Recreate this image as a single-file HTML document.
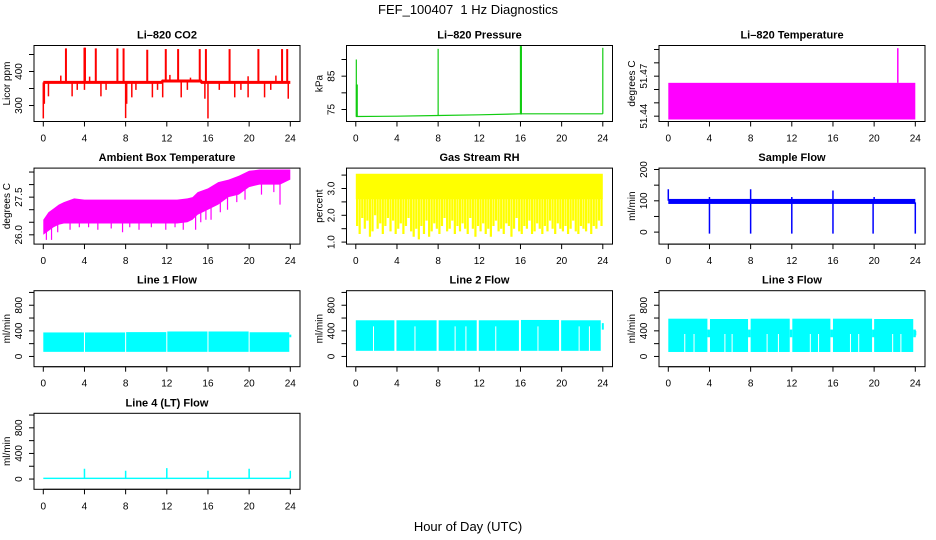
<!DOCTYPE html>
<html><head><meta charset="utf-8"><style>
html,body{margin:0;padding:0;background:#fff}
svg{display:block;font-family:"Liberation Sans",Arial,sans-serif}
</style></head><body>
<svg id="chart" width="936" height="540" viewBox="0 0 936 540" xmlns="http://www.w3.org/2000/svg">
<rect x="0" y="0" width="936" height="540" fill="#fff"/>
<text x="468" y="14" font-size="13" text-anchor="middle">FEF_100407 &#160;1 Hz Diagnostics</text>
<text x="468" y="531" font-size="13" text-anchor="middle">Hour of Day (UTC)</text>
</svg>
<script>
// ---- data ----
const xTicks = [0,4,8,12,16,20,24];
const co2BaseHours = [0,11.5,11.6,15.3,15.4,24];
const co2BaseVals = [368,368,372,372,368,368];
const co2SpikeHours = [2.2,4.0,4.05,5.1,7.2,7.8,10.1,11.9,13.1,15.2,15.8,18.1,20.9,23.2,23.7];
const co2SpikeTops = [468,470,470,468,468,468,464,466,466,466,466,466,466,466,466];
const co2DipHours = [0.0,0.1,0.5,2.8,3.3,4.0,5.6,6.1,8.0,8.1,8.6,9.0,10.6,11.1,11.6,13.4,14.0,15.7,16.0,17.1,18.6,19.2,19.9,21.5,22.1,23.8];
const co2DipMins = [262,305,327,327,346,346,327,346,263,305,324,346,324,346,324,324,346,320,262,346,324,346,324,324,346,320];
const co2BumpHours = [1.7,4.5,12.3,14.3,19.9,22.6];
const co2BumpTops = [388,385,390,382,386,388];

const pressHours = [0,4,8,12,16,20,24];
const pressVals = [72.9,73.0,73.2,73.4,73.7,73.7,73.7];
const pressSpikeHours = [0.05,8.0,16.0,24.0];
const pressSpikeTops = [90,93.2,94,93.5];

const ltHours = [0,24];
const ltLow = [51.4375,51.4375];
const ltHigh = [51.465,51.465];
const ltSpikeHours = [22.3];
const ltSpikeTops = [51.491];

const ambHours = [0,0.5,1,1.5,2,3,4,5,6,7,8,9,10,11,12,13,14,14.5,15,16,17,18,19,20,21,22,23,24];
const ambUpper = [26.6,26.9,27.05,27.2,27.3,27.45,27.4,27.4,27.4,27.4,27.4,27.4,27.4,27.4,27.4,27.4,27.45,27.5,27.7,27.85,28.1,28.2,28.35,28.55,28.6,28.6,28.6,28.6];
const ambLower = [26.0,26.15,26.3,26.4,26.45,26.45,26.45,26.45,26.45,26.45,26.45,26.45,26.45,26.45,26.45,26.45,26.5,26.6,26.8,27.0,27.2,27.5,27.6,27.9,28.0,28.0,28.0,28.2];
const ambDipHours = [0.3,0.8,1.4,2.6,3.5,4.4,5.3,6.6,7.7,8.4,9.3,10.5,11.9,12.8,13.6,14.8,15.3,15.8,16.3,17.2,17.9,18.8,19.6,21.2,22.4,23.0];
const ambDipMins = [25.8,25.8,26.1,26.2,26.3,26.3,26.2,26.25,26.1,26.3,26.2,26.3,26.2,26.3,26.2,26.2,26.5,26.6,26.6,26.9,27.0,27.3,27.4,27.6,27.7,27.2];

const rhBandTop = 3.55;
const rhBandBottom = 2.6;
const rhMins = [1.6,1.3,1.9,1.5,1.8,1.2,1.4,2.0,1.5,1.7,1.3,1.6,1.9,1.4,1.8,1.3,
  1.5,1.7,1.3,1.6,1.9,1.4,1.2,1.5,1.1,1.6,1.3,1.8,1.2,1.4,1.7,1.5,
  1.3,1.6,1.9,1.4,1.5,1.8,1.3,1.6,1.4,1.7,1.5,1.3,1.9,1.5,1.2,1.6,
  1.4,1.7,1.3,1.5,1.2,1.6,1.8,1.4,1.5,1.3,1.7,1.6,1.2,1.5,1.9,1.4,
  1.3,1.6,1.5,1.8,1.3,1.4,1.7,1.5,1.3,1.6,1.4,1.8,1.5,1.3,1.7,1.5,
  1.4,1.6,1.3,1.5,1.8,1.4,1.3,1.6,1.5,1.4,1.7,1.3,1.6,1.5,1.8,1.6];

const sfBandLow = 90, sfBandHigh = 106;
const sfDipHours = [4.0,8.0,12.0,16.0,19.9,24.0];
const sfDipMins = [-5,-5,-5,-5,-5,-5];
const sfSpikeHours = [0.0,4.0,8.0,12.0,16.0,20.0];
const sfSpikeTops = [137,112,137,112,133,112];

const l1SegStart = [0,4.05,8.05,12.05,16.05,20.05];
const l1SegEnd = [3.95,7.95,11.95,15.95,19.95,23.9];
const l1Tops = [375,375,380,390,390,378];
const l1Low = 72;

const l2SegStart = [0,3.95,8.05,11.95,16.05,19.95];
const l2SegEnd = [3.75,7.85,11.75,15.85,19.75,23.8];
const l2Tops = [565,565,565,565,570,565];
const l2Low = 88;
const l2InnerHours = [1.72,5.75,9.65,10.7,13.6,17.7,21.7,22.7];
const l2InnerTop = 470;

const l3SegStart = [0,4.05,8.0,12.05,16.0,20.0];
const l3SegEnd = [3.8,7.75,11.8,15.75,19.8,23.8];
const l3Tops = [590,585,590,590,590,585];
const l3Low = 70;
const l3InnerHours = [1.6,2.5,5.5,6.2,9.6,10.7,13.8,14.6,17.7,18.5,21.8,22.6];
const l3InnerTop = 350;

const l4BaseLow = 0, l4BaseHigh = 22;
const l4SpikeHours = [4,8,12,16,20,24];
const l4SpikeTops = [160,130,170,130,160,130];

// ---- helpers ----
const svg = document.getElementById('chart');
const NS = 'http://www.w3.org/2000/svg';
function mk(tag, attrs, parent){
  const e = document.createElementNS(NS, tag);
  for (const k in attrs) e.setAttribute(k, attrs[k]);
  (parent||svg).appendChild(e);
  return e;
}
const colLeft = [34,346.5,659];
const BOXW = 266, BOXH = 76;
function rowTop(r){ return 45.5 + 122.6*r; }
function interp(xs, ys, x){
  for (let i = 1; i < xs.length; i++) {
    if (x <= xs[i]) { const t = (x - xs[i-1]) / (xs[i] - xs[i-1]); return ys[i-1] + t*(ys[i]-ys[i-1]); }
  }
  return ys[ys.length-1];
}

function panel(name, col, row, title, ylab, ylim, yticks, ylabels){
  const L = colLeft[col], T = rowTop(row);
  const g = mk('g', {});
  
  
  const x0 = L + 9.3, x1 = L + 256.3;
  const sx = h => x0 + (h/24)*(x1-x0);
  const sy = v => T + BOXH - (v-ylim[0])/(ylim[1]-ylim[0])*BOXH;
  const plot = mk('g', {}, g);
  
  
  const cid = 'clip-' + name;
  const cp = mk('clipPath', {id: cid}, g);
  mk('rect', {x: L, y: T, width: BOXW, height: BOXH}, cp);
  plot.setAttribute('clip-path', 'url(#' + cid + ')');
  const box = mk('rect', {x: L, y: T, width: BOXW, height: BOXH, fill: 'none', stroke: '#000', 'stroke-width': 1}, g);
  
  
  const t = mk('text', {x: L + BOXW/2, y: T - 7, 'font-size': 11, 'font-weight': 'bold', 'text-anchor': 'middle'}, g);
  t.textContent = title;
  
  
  const xa = mk('g', {}, g);
  
  
  mk('line', {x1: sx(0), x2: sx(24), y1: T+BOXH, y2: T+BOXH, stroke: '#000'}, xa);
  xTicks.forEach(h => {
    mk('line', {x1: sx(h), x2: sx(h), y1: T+BOXH, y2: T+BOXH+5, stroke: '#000'}, xa);
    const tl = mk('text', {x: sx(h), y: T+BOXH+20, 'font-size': 10, 'text-anchor': 'middle'}, xa);
    tl.textContent = h;
    
    
  });
  const ya = mk('g', {}, g);
  
  
  mk('line', {x1: L, x2: L, y1: sy(yticks[0]), y2: sy(yticks[yticks.length-1]), stroke: '#000'}, ya);
  yticks.forEach((v,i) => {
    mk('line', {x1: L-5, x2: L, y1: sy(v), y2: sy(v), stroke: '#000'}, ya);
    if (ylabels[i]) {
      const yl = mk('text', {x: L-12, y: sy(v), 'font-size': 10, 'text-anchor': 'middle', transform: 'rotate(-90 ' + (L-12) + ' ' + sy(v) + ')'}, ya);
      yl.textContent = ylabels[i];
      
      
    }
  });
  const yt = mk('text', {x: L-24, y: T+BOXH/2, 'font-size': 10, 'text-anchor': 'middle', transform: 'rotate(-90 ' + (L-24) + ' ' + (T+BOXH/2) + ')'}, g);
  yt.textContent = ylab;
  
  
  return {plot, sx, sy};
}
function vline(p, h, a, b, color, w){
  const e = mk('line', {x1: p.sx(h), x2: p.sx(h), y1: p.sy(a), y2: p.sy(b), stroke: color, 'stroke-width': w||1.5}, p.plot);
  
  
  return e;
}
function band(p, h0, h1, lo, hi, color){
  const e = mk('rect', {x: p.sx(h0), y: p.sy(hi), width: Math.max(0.5, p.sx(h1)-p.sx(h0)), height: p.sy(lo)-p.sy(hi), fill: color}, p.plot);
  
  
  return e;
}
function poly(p, hs, vs, color, w){
  const pts = hs.map((h,i) => p.sx(h) + ',' + p.sy(vs[i])).join(' ');
  const e = mk('polyline', {points: pts, fill: 'none', stroke: color, 'stroke-width': w}, p.plot);
  
  
  return e;
}

// ---- CO2 ----
{
  const p = panel('co2', 0, 0, 'Li\u2013820 CO2', 'Licor ppm', [253,476.5], [300,350,400,450], ['300','','400','']);
  co2DipHours.forEach((h,i) => vline(p, h, 368, co2DipMins[i], '#f00', 1.5));
  co2BumpHours.forEach((h,i) => vline(p, h, 368, co2BumpTops[i], '#f00', 1.5));
  co2SpikeHours.forEach((h,i) => vline(p, h, 368, co2SpikeTops[i], '#f00', 2));
  poly(p, co2BaseHours, co2BaseVals, '#f00', 3);
}
// ---- Pressure ----
{
  const p = panel('pressure', 1, 0, 'Li\u2013820 Pressure', 'kPa', [71.4,94.2], [75,80,85,90], ['75','','85','']);
  poly(p, pressHours, pressVals, '#1c1', 1.2);
  pressSpikeHours.forEach((h,i) => vline(p, h, interp(pressHours, pressVals, h), pressSpikeTops[i], '#1c1', 1.2));
  vline(p, 0.1, 73, 82.5, '#1c1', 2);
  vline(p, 16.05, 73.5, 94, '#1c1', 2);
}
// ---- Li-820 Temperature ----
{
  const p = panel('li-temp', 2, 0, 'Li\u2013820 Temperature', 'degrees C', [51.436,51.493], [51.44,51.45,51.46,51.47,51.48,51.49], ['51.44','','','51.47','','']);
  band(p, ltHours[0], ltHours[1], ltLow[0], ltHigh[0], '#f0f');
  ltSpikeHours.forEach((h,i) => vline(p, h, ltHigh[0], ltSpikeTops[i], '#f0f', 1.5));
}
// ---- Ambient ----
{
  const p = panel('ambient-temp', 0, 1, 'Ambient Box Temperature', 'degrees C', [25.63,28.657], [26,26.5,27,27.5,28,28.5], ['26.0','','','27.5','','']);
  const pts = ambHours.map((h,i)=>p.sx(h)+','+p.sy(ambUpper[i])).concat(ambHours.slice().reverse().map((h,j)=>{const i=ambHours.length-1-j;return p.sx(h)+','+p.sy(ambLower[i]);})).join(' ');
  const e = mk('polygon', {points: pts, fill: '#f0f'}, p.plot);
  
  
  ambDipHours.forEach((h,i) => vline(p, h, interp(ambHours, ambLower, h) + 0.05, ambDipMins[i], '#f0f', 1.2));
}
// ---- RH ----
{
  const p = panel('gas-rh', 1, 1, 'Gas Stream RH', 'percent', [0.925,3.761], [1,1.5,2,2.5,3,3.5], ['1.0','','2.0','','3.0','']);
  band(p, 0, 24, rhBandBottom, rhBandTop, '#ff0');
  rhMins.forEach((m,i) => vline(p, (i+0.5)*24/rhMins.length, rhBandBottom+0.05, m, '#ff0', 2.2));
}
// ---- Sample flow ----
{
  const p = panel('sample-flow', 2, 1, 'Sample Flow', 'ml/min', [-38.3,204.5], [0,50,100,150,200], ['0','','100','','200']);
  band(p, 0, 24, sfBandLow, sfBandHigh, '#00f');
  sfDipHours.forEach((h,i) => vline(p, h, 95, sfDipMins[i], '#00f', 1.5));
  sfSpikeHours.forEach((h,i) => vline(p, h, 100, sfSpikeTops[i], '#00f', 1.5));
}
const flowTicks = [0,200,400,600,800,1000];
const flowLabels = ['0','','400','','800',''];
// ---- Line 1 ----
{
  const p = panel('line1-flow', 0, 2, 'Line 1 Flow', 'ml/min', [-160,1027], flowTicks, flowLabels);
  l1SegStart.forEach((s,i) => band(p, s, l1SegEnd[i], l1Low, l1Tops[i], '#0ff'));
  vline(p, 24.0, 300, 340, '#0ff', 2);
}
// ---- Line 2 ----
{
  const p = panel('line2-flow', 1, 2, 'Line 2 Flow', 'ml/min', [-160,1027], flowTicks, flowLabels);
  l2SegStart.forEach((s,i) => band(p, s, l2SegEnd[i], l2Low, l2Tops[i], '#0ff'));
  vline(p, 24.0, 420, 520, '#0ff', 2);
  l2InnerHours.forEach(h => vline(p, h, l2Low, l2InnerTop, '#fff', 1));
}
// ---- Line 3 ----
{
  const p = panel('line3-flow', 2, 2, 'Line 3 Flow', 'ml/min', [-160,1027], flowTicks, flowLabels);
  l3SegStart.forEach((s,i) => band(p, s, l3SegEnd[i], l3Low, l3Tops[i], '#0ff'));
  l3SegEnd.forEach((e,i) => band(p, e, e + 0.25, 300, 420, '#0ff'));
  vline(p, 24.0, 330, 400, '#0ff', 2);
  l3InnerHours.forEach(h => vline(p, h, l3Low, l3InnerTop, '#fff', 1));
}
// ---- Line 4 ----
{
  const p = panel('line4-flow', 0, 3, 'Line 4 (LT) Flow', 'ml/min', [-160,1027], flowTicks, flowLabels);
  band(p, 0, 24, l4BaseLow, l4BaseHigh, '#0ff');
  l4SpikeHours.forEach((h,i) => vline(p, h, 10, l4SpikeTops[i], '#0ff', 1.5));
}
</script>
</body></html>
